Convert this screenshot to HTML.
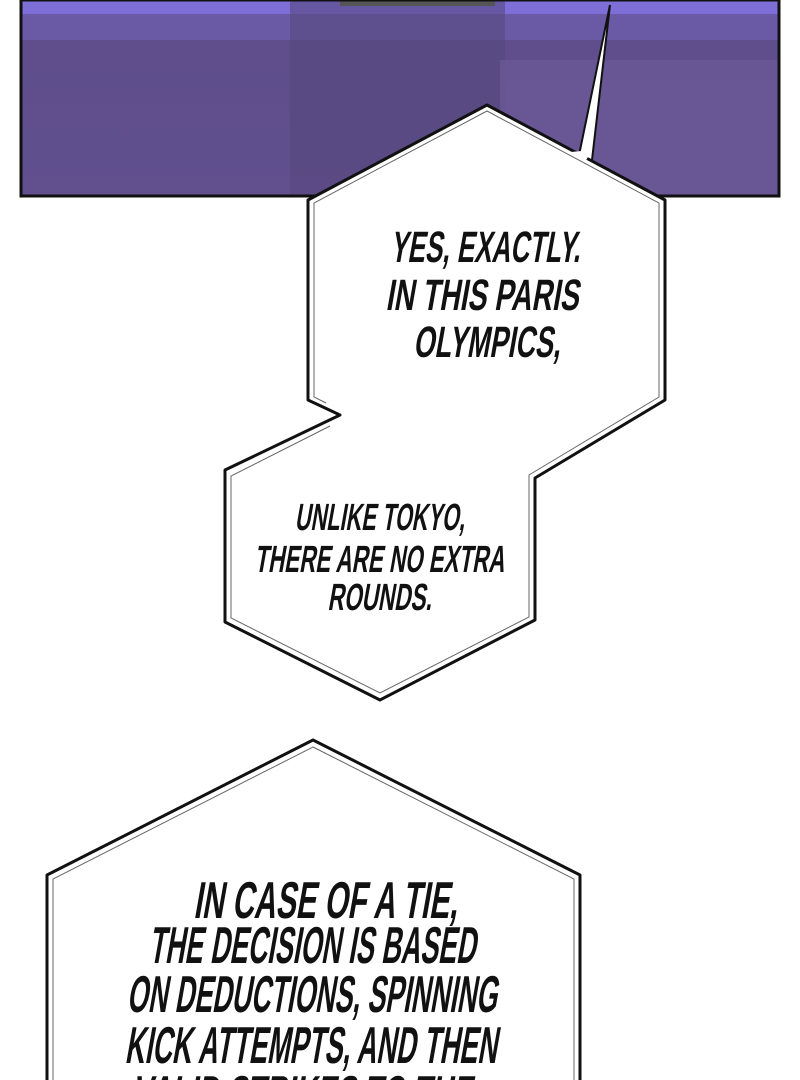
<!DOCTYPE html>
<html><head><style>
html,body{margin:0;padding:0;background:#fff;width:800px;height:1080px;overflow:hidden}
svg{display:block}
text{font-family:"Liberation Sans",sans-serif;font-weight:bold;fill:#111}
</style></head><body>
<svg width="800" height="1080" viewBox="0 0 800 1080">
<defs>
<linearGradient id="bg" x1="0" y1="0" x2="0" y2="1">
<stop offset="0" stop-color="#5e4e8a"/><stop offset="1" stop-color="#614f8e"/>
</linearGradient>
</defs>
<rect x="0" y="0" width="800" height="1080" fill="#fff"/>
<rect x="21" y="0" width="758" height="196" fill="url(#bg)"/>
<rect x="21" y="0" width="758" height="14" fill="#7d6ed8"/>
<rect x="21" y="14" width="758" height="26" fill="#6a5aa6"/>
<rect x="290" y="0" width="215" height="196" fill="#56477e" opacity="0.6"/>
<rect x="500" y="60" width="280" height="136" fill="#6c5a98" opacity="0.7"/>
<rect x="340" y="0" width="155" height="6" fill="#555"/>
<rect x="21" y="0" width="758" height="196" fill="none" stroke="#111" stroke-width="3"/>
<polygon points="610,5 592,160 578,160" fill="#fff" stroke="#111" stroke-width="2"/>
<polygon points="487,105 665,200 665,400 535,478 535,620 380,700 225,622 225,470 340,415 308,400 308,200"
 fill="#fff" stroke="#111" stroke-width="3" stroke-linejoin="round"/>
<polyline points="330,426 231,476 231,618 380,693 529,617 529,475 659,397 659,203 487,111 314,203 314,397 326,403"
 fill="none" stroke="#666" stroke-width="1"/>
<polygon points="571,152 592,150 585,162" fill="#fff"/>
<polygon points="313,740 580,875 580,1090 47,1090 47,875" fill="#fff" stroke="#111" stroke-width="3" stroke-linejoin="round"/>
<polygon points="313,747 574,879 574,1090 53,1090 53,879" fill="none" stroke="#666" stroke-width="1"/>
<g transform="skewX(-10)">
<g font-size="44">
<text x="436" y="262" textLength="190" lengthAdjust="spacingAndGlyphs">YES, EXACTLY.</text>
<text x="440" y="310" textLength="193" lengthAdjust="spacingAndGlyphs">IN THIS PARIS</text>
<text x="476" y="357" textLength="147" lengthAdjust="spacingAndGlyphs">OLYMPICS,</text>
</g>
<g font-size="38">
<text x="388" y="530" textLength="170" lengthAdjust="spacingAndGlyphs">UNLIKE TOKYO,</text>
<text x="355" y="572" textLength="250" lengthAdjust="spacingAndGlyphs">THERE ARE NO EXTRA</text>
<text x="435" y="610" textLength="104" lengthAdjust="spacingAndGlyphs">ROUNDS.</text>
</g>
<g font-size="52">
<text x="355" y="918" textLength="264" lengthAdjust="spacingAndGlyphs">IN CASE OF A TIE,</text>
<text x="318" y="963" textLength="327" lengthAdjust="spacingAndGlyphs">THE DECISION IS BASED</text>
<text x="305" y="1012" textLength="370" lengthAdjust="spacingAndGlyphs">ON DEDUCTIONS, SPINNING</text>
<text x="312" y="1063" textLength="372" lengthAdjust="spacingAndGlyphs">KICK ATTEMPTS, AND THEN</text>
<text x="327" y="1112" textLength="340" lengthAdjust="spacingAndGlyphs">VALID STRIKES TO THE</text>
</g>
</g>
</svg>
</body></html>
